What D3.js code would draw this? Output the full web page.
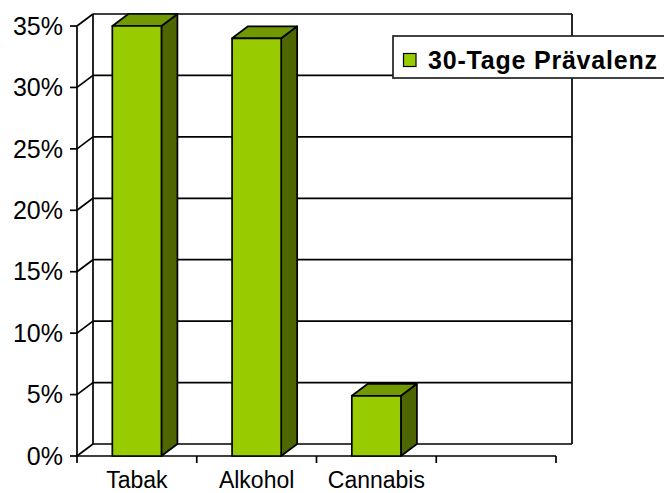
<!DOCTYPE html>
<html><head><meta charset="utf-8">
<script src="https://cdn.jsdelivr.net/npm/d3@7/dist/d3.min.js"></script>
<style>html,body{margin:0;padding:0;background:#fff;}svg{display:block;}</style>
</head><body>
<svg id="chart" width="664" height="493"></svg>
<script>
const categories = ["Tabak", "Alkohol", "Cannabis", ""];
const values = [0.35, 0.34, 0.049];
const seriesName = "30-Tage Prävalenz";
const yTicks = [0, 0.05, 0.10, 0.15, 0.20, 0.25, 0.30, 0.35];

const svg = d3.select("#chart");
const font = "'Liberation Sans', Arial, sans-serif";
const dx = 16, dy = -12;
const x = d3.scaleBand().domain(categories).range([77, 556]).padding(0);
const y = d3.scaleLinear().domain([0, 0.35]).range([456, 26]);
const bw = x.bandwidth();
const lw = 1.7;

const g = svg.append("g").attr("stroke", "#000").attr("stroke-width", lw).attr("fill", "none");
// back wall gridlines
yTicks.forEach(t => {
  g.append("line").attr("x1", x.range()[0] + dx).attr("x2", x.range()[1] + dx)
    .attr("y1", y(t) + dy).attr("y2", y(t) + dy);
  // left wall diagonal
  g.append("line").attr("x1", x.range()[0]).attr("y1", y(t))
    .attr("x2", x.range()[0] + dx).attr("y2", y(t) + dy);
});
// back wall verticals
g.append("line").attr("x1", x.range()[0] + dx).attr("x2", x.range()[0] + dx)
  .attr("y1", y(0.35) + dy).attr("y2", y(0) + dy);
g.append("line").attr("x1", x.range()[1] + dx).attr("x2", x.range()[1] + dx)
  .attr("y1", y(0.35) + dy).attr("y2", y(0) + dy);
// front axes
g.append("line").attr("x1", x.range()[0]).attr("x2", x.range()[0]).attr("y1", y(0.35)).attr("y2", y(0) + 7);
g.append("line").attr("x1", x.range()[0]).attr("x2", x.range()[1]).attr("y1", y(0)).attr("y2", y(0));
// y ticks
yTicks.forEach(t => {
  g.append("line").attr("x1", x.range()[0] - 7).attr("x2", x.range()[0]).attr("y1", y(t)).attr("y2", y(t));
});
// x ticks at band boundaries
categories.forEach((c, i) => {
  const xx = x(c) + bw;
  g.append("line").attr("x1", xx).attr("x2", xx).attr("y1", y(0)).attr("y2", y(0) + 7);
});

// y labels
svg.append("g").selectAll("text").data(yTicks).join("text")
  .attr("x", 63).attr("y", d => y(d)).attr("dy", "0.35em")
  .attr("text-anchor", "end").attr("font-family", font).attr("font-size", 25)
  .attr("fill", "#000").text(d => d3.format(".0%")(d));

// x labels
svg.append("g").selectAll("text").data(categories).join("text")
  .attr("x", d => x(d) + bw / 2).attr("y", 488)
  .attr("text-anchor", "middle").attr("font-family", font).attr("font-size", 23)
  .attr("fill", "#000").text(d => d);

// bars
const bars = svg.append("g").attr("stroke", "#000").attr("stroke-width", lw).attr("stroke-linejoin", "round");
values.forEach((v, i) => {
  const x0 = x(categories[i]) + bw * 0.295;
  const w = bw * 0.41;
  const yt = y(v), yb = y(0);
  bars.append("polygon").attr("fill", "#4D6600")
    .attr("points", [[x0 + w, yt], [x0 + w + dx, yt + dy], [x0 + w + dx, yb + dy], [x0 + w, yb]].join(" "));
  bars.append("polygon").attr("fill", "#739900")
    .attr("points", [[x0, yt], [x0 + dx, yt + dy], [x0 + w + dx, yt + dy], [x0 + w, yt]].join(" "));
  bars.append("rect").attr("fill", "#99CC00")
    .attr("x", x0).attr("y", yt).attr("width", w).attr("height", yb - yt);
});

// legend
const lg = svg.append("g");
lg.append("rect").attr("x", 393).attr("y", 36).attr("width", 300).attr("height", 42)
  .attr("fill", "#fff").attr("stroke", "#222").attr("stroke-width", 1.7);
lg.append("rect").attr("x", 403.5).attr("y", 53.5).attr("width", 12.5).attr("height", 13)
  .attr("fill", "#99CC00").attr("stroke", "#000").attr("stroke-width", 1.2);
lg.append("text").attr("x", 428).attr("y", 68.5).attr("font-family", font)
  .attr("font-weight", "bold").attr("font-size", 25).attr("fill", "#000")
  .attr("textLength", 229).attr("lengthAdjust", "spacing").text(seriesName);
</script>
</body></html>
